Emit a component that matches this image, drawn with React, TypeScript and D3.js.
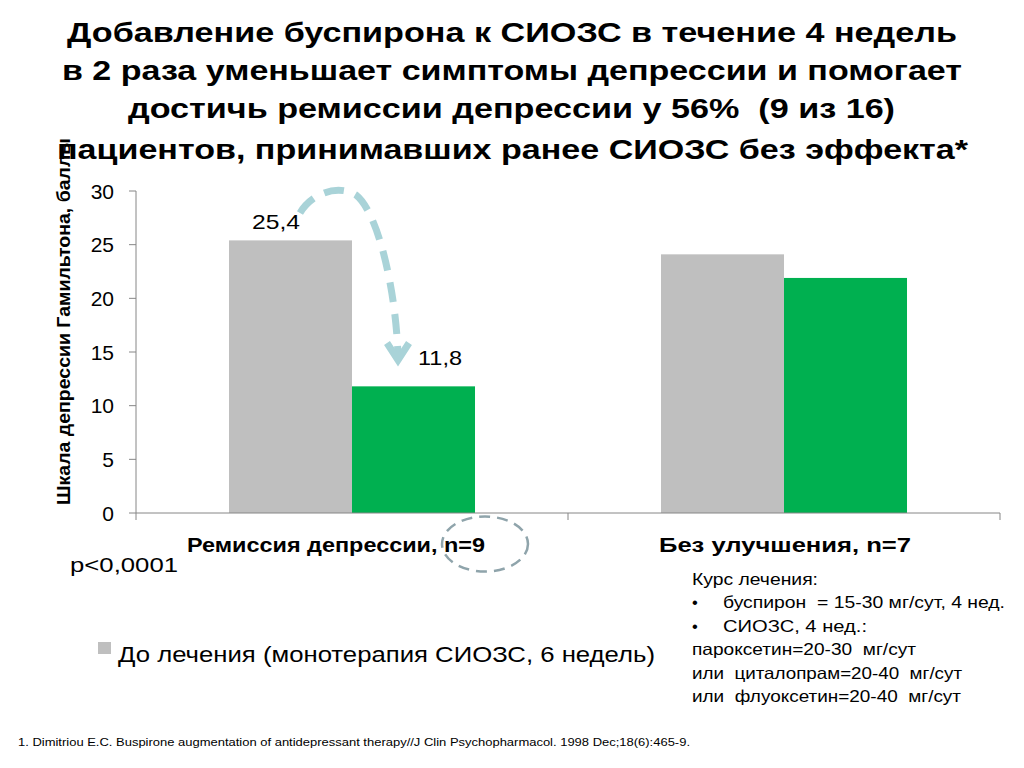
import React from "react";
import * as d3 from "d3";

const categories = ["Ремиссия депрессии, n=9", "Без улучшения, n=7"];
const seriesNames = ["До лечения (монотерапия СИОЗС, 6 недель)", "После лечения"];
const beforeValues = [25.4, 24.1];
const afterValues = [11.8, 21.9];
const yTicks = [0, 5, 10, 15, 20, 25, 30];
const dataLabels = [
  { cat: 0, series: 0, text: "25,4" },
  { cat: 0, series: 1, text: "11,8" },
];
const titleLines = [
  "Добавление буспирона к СИОЗС в течение 4 недель",
  "в 2 раза уменьшает симптомы депрессии и помогает",
  "достичь ремиссии депрессии у 56%  (9 из 16)",
  "пациентов, принимавших ранее СИОЗС без эффекта*",
];
const noteLines = [
  "Курс лечения:",
  "•",
  "•",
  "пароксетин=20-30  мг/сут",
  "или  циталопрам=20-40  мг/сут",
  "или  флуоксетин=20-40  мг/сут",
];
const noteBulletTexts = ["буспирон  = 15-30 мг/сут, 4 нед.", "СИОЗС, 4 нед.:"];
const colors = ["#bfbfbf", "#00b050"];

export default function App() {
  const W = 1024, H = 768;
  const left = 136, right = 1000, top = 191, bottom = 513;
  const x0 = d3.scaleBand().domain(categories).range([left, right]).paddingInner(0).paddingOuter(0);
  const x1 = d3.scaleBand().domain(["0", "1"]).range([0, x0.bandwidth()]).paddingInner(0).paddingOuter(0.756);
  const y = d3.scaleLinear().domain([0, 30]).range([bottom, top]);
  const series = [beforeValues, afterValues];
  const font = "'Liberation Sans', Arial, sans-serif";
  const sg = "spacingAndGlyphs";

  const titleX = [67, 62, 128, 57];
  const titleLen = [890, 900, 767, 911];
  const titleY = [42, 80, 118, 159];
  const catX = [187, 659];
  const catLen = [298, 252];
  const noteLen = [126, 0, 0, 224, 270, 269];
  const bulletLen = [282, 144];

  return (
    <svg width={W} height={H} style={{ position: "absolute", left: 0, top: 0, background: "#fff" }} fontFamily={font}>
      <rect x={0} y={0} width={W} height={H} fill="#fff" />
      {/* y axis label (behind title) */}
      <text transform={`translate(70,321.5) rotate(-90)`} textAnchor="middle" fontSize={17.5} fontWeight="bold" fill="#000"
        textLength={367} lengthAdjust={sg}>
        Шкала депрессии Гамильтона, баллы
      </text>
      {/* bars */}
      {categories.map((c, ci) =>
        series.map((vals, si) => (
          <rect key={`${ci}-${si}`} x={(x0(c) as number) + (x1(String(si)) as number)} y={y(vals[ci])}
            width={x1.bandwidth()} height={bottom - y(vals[ci])} fill={colors[si]} />
        ))
      )}
      {/* axes */}
      <line x1={left} x2={left} y1={top} y2={bottom} stroke="#868686" strokeWidth={1} />
      {yTicks.map((t) => (
        <g key={t}>
          <line x1={left - 7} x2={left} y1={y(t)} y2={y(t)} stroke="#868686" strokeWidth={1} />
          <text x={114} y={y(t) + 7.5} textAnchor="end" fontSize={21} fill="#000">{t}</text>
        </g>
      ))}
      <line x1={left} x2={right} y1={bottom} y2={bottom} stroke="#868686" strokeWidth={1} />
      {[0, 1, 2].map((i) => {
        const xx = left + i * x0.bandwidth();
        return <line key={i} x1={xx} x2={xx} y1={bottom} y2={bottom + 7} stroke="#868686" strokeWidth={1} />;
      })}
      {categories.map((c, i) => (
        <text key={c} x={catX[i]} y={552} fontSize={20} fontWeight="bold" fill="#000" textLength={catLen[i]} lengthAdjust={sg}>{c}</text>
      ))}
      {/* data labels */}
      {dataLabels.map((d, i) => {
        const bx = (x0(categories[d.cat]) as number) + (x1(String(d.series)) as number);
        const vy = y(series[d.series][d.cat]);
        return (
          <text key={i} x={d.series === 0 ? bx + 23 : bx + 66} y={vy - (d.series === 0 ? 11 : 21)} fontSize={21} fill="#000"
            textLength={d.series === 0 ? 48 : 44} lengthAdjust={sg}>{d.text}</text>
        );
      })}
      {/* dashed arrow */}
      <path d="M300,213 C312,193 338,184 356,195 C378,212 396,290 398,356" fill="none" stroke="#a9d3d8" strokeWidth={7} strokeDasharray="20 12" />
      <path d="M387,343 L398,360 L409,343" fill="none" stroke="#a9d3d8" strokeWidth={7} strokeLinejoin="miter" />
      {/* dashed ellipse */}
      <ellipse cx={485} cy={544} rx={43} ry={27.5} fill="none" stroke="#8fa4ab" strokeWidth={2.5} strokeDasharray="11 7" />
      {/* p value */}
      <text x={70} y={572} fontSize={21} fill="#000" textLength={108} lengthAdjust={sg}>p&lt;0,0001</text>
      {/* legend */}
      <rect x={98} y={642} width={13} height={12} fill={colors[0]} />
      <text x={118} y={662} fontSize={22.5} fill="#000" textLength={537} lengthAdjust={sg}>{seriesNames[0]}</text>
      {/* note box */}
      {noteLines.map((l, i) => (
        <text key={i} x={692} y={585 + i * 23.4} fontSize={16.5} fill="#000" style={{ whiteSpace: "pre" }}
          textLength={noteLen[i] || undefined} lengthAdjust={noteLen[i] ? sg : undefined}>{l}</text>
      ))}
      {noteBulletTexts.map((l, i) => (
        <text key={i} x={723} y={585 + (i + 1) * 23.4} fontSize={16.5} fill="#000" style={{ whiteSpace: "pre" }}
          textLength={bulletLen[i]} lengthAdjust={sg}>{l}</text>
      ))}
      {/* footnote */}
      <text x={18} y={746} fontSize={11.5} fill="#000" textLength={672} lengthAdjust={sg}>
        1. Dimitriou E.C. Buspirone augmentation of antidepressant therapy//J Clin Psychopharmacol. 1998 Dec;18(6):465-9.
      </text>
      {/* title */}
      {titleLines.map((l, i) => (
        <text key={i} x={titleX[i]} y={titleY[i]} fontSize={27.5} fontWeight="bold" fill="#000" style={{ whiteSpace: "pre" }}
          textLength={titleLen[i]} lengthAdjust={sg}>{l}</text>
      ))}
    </svg>
  );
}
